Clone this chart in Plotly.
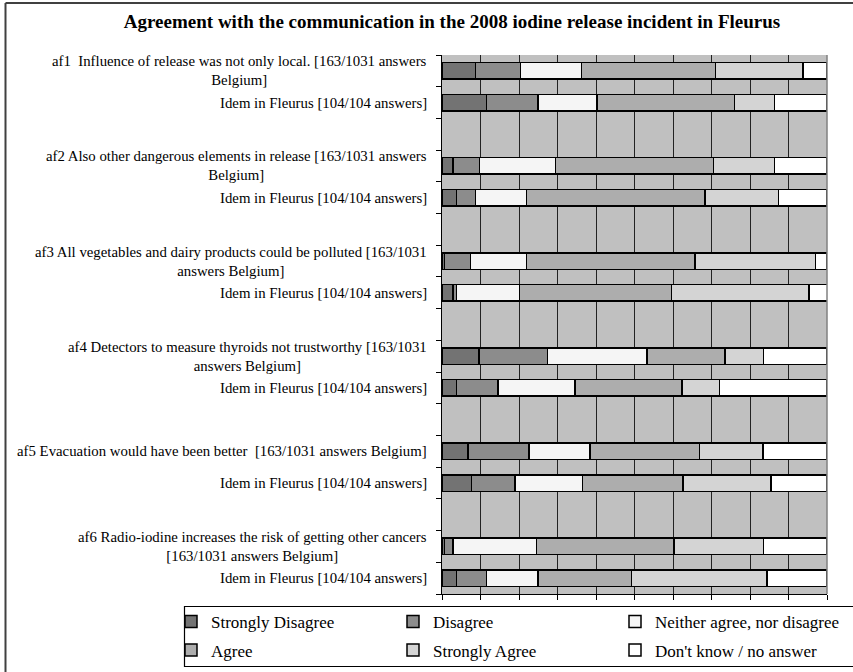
import plotly.graph_objects as go

# ---------------- data ----------------
row_labels = [
    "af1\u00a0 Influence of release was not only local. [163/1031 answers<br>Belgium]",
    "Idem in Fleurus [104/104 answers]",
    "af2 Also other dangerous elements in release [163/1031 answers<br>Belgium]",
    "Idem in Fleurus [104/104 answers]",
    "af3 All vegetables and dairy products could be polluted [163/1031<br>answers Belgium]",
    "Idem in Fleurus [104/104 answers]",
    "af4 Detectors to measure thyroids not trustworthy [163/1031<br>answers Belgium]",
    "Idem in Fleurus [104/104 answers]",
    "af5 Evacuation would have been better\u00a0 [163/1031 answers Belgium]",
    "Idem in Fleurus [104/104 answers]",
    "af6 Radio-iodine increases the risk of getting other cancers<br>[163/1031 answers Belgium]",
    "Idem in Fleurus [104/104 answers]",
]

strongly_disagree = [8.7, 11.5, 2.9, 3.7, 0.6, 2.9, 9.6, 3.8, 6.8, 7.7, 0.6, 3.8]
disagree          = [11.7, 13.4, 6.8, 5.0, 6.8, 0.9, 17.8, 10.7, 15.8, 11.3, 2.3, 7.8]
neither           = [15.8, 15.4, 19.8, 13.2, 14.5, 16.3, 25.9, 20.1, 15.8, 17.5, 21.6, 13.3]
agree             = [34.9, 35.7, 41.0, 46.4, 43.8, 39.5, 20.2, 27.8, 28.5, 26.1, 35.8, 24.3]
strongly_agree    = [22.7, 10.4, 15.9, 19.1, 31.3, 35.7, 10.0, 9.7, 16.5, 22.8, 23.2, 35.2]
dont_know         = [6.2, 13.6, 13.6, 12.6, 2.9, 4.8, 16.5, 27.9, 16.5, 14.6, 16.5, 15.5]

series_names = ["Strongly Disagree", "Disagree", "Neither agree, nor disagree",
                "Agree", "Strongly Agree", "Don't know / no answer"]
series_values = [strongly_disagree, disagree, neither, agree, strongly_agree, dont_know]
series_colors = ["#737373", "#8C8C8C", "#F5F5F5", "#ADADAD", "#D4D4D4", "#FFFFFF"]

# each question: Belgium row, Fleurus row, then an empty gap row
positions = []
for q in range(len(row_labels) // 2):
    positions += [q * 3, q * 3 + 1]
n_rows = positions[-1] + 1

# ---------------- geometry helpers ----------------
W, H = 853, 672
PL, PR, PT, PB = 442, 827, 55, 594
def px2x(px):
    return (px - PL) / (PR - PL)
def py2y(py):
    return (PB - py) / (PB - PT)

SERIF = "Liberation Serif, Times New Roman, serif"

# legend grid: 3 columns x 2 rows, one small legend per entry
legend_cols_px = [171, 393, 615]
legend_rows_px = [622, 650.5]

fig = go.Figure()
legend_layouts = {}
for i, (name, vals, col) in enumerate(zip(series_names, series_values, series_colors)):
    lg_key = "legend" if i == 0 else f"legend{i + 1}"
    fig.add_trace(go.Bar(
        y=positions, x=vals, orientation="h", name=name,
        marker=dict(color=col, line=dict(color="black", width=1.5)),
        legend=lg_key,
    ))
    legend_layouts[lg_key] = dict(
        x=px2x(legend_cols_px[i % 3]), y=py2y(legend_rows_px[i // 3]),
        orientation="h", xanchor="left", yanchor="middle",
        font=dict(family=SERIF, size=17, color="black"),
        bgcolor="rgba(0,0,0,0)", borderwidth=0,
        itemclick=False, itemdoubleclick=False,
    )

annotations = []
for lab, pos in zip(row_labels, positions):
    annotations.append(dict(
        text=lab, x=0, y=pos, xref="paper", yref="y",
        xanchor="right", yanchor="middle", xshift=-13, align="center",
        showarrow=False, font=dict(family=SERIF, size=14.8, color="black"),
    ))

shapes = [
    # right border of the plot area
    dict(type="line", xref="paper", yref="paper", x0=1, x1=1, y0=0, y1=1,
         line=dict(color="#808080", width=1.5)),
    # outer chart border (left + top)
    dict(type="line", xref="paper", yref="paper", x0=px2x(5.5), x1=px2x(5.5),
         y0=py2y(3), y1=py2y(680), line=dict(color="#404040", width=2)),
    dict(type="line", xref="paper", yref="paper", x0=px2x(5.5), x1=px2x(870),
         y0=py2y(3), y1=py2y(3), line=dict(color="#404040", width=2)),
    # legend box
    dict(type="rect", xref="paper", yref="paper", x0=px2x(184.5), x1=px2x(870),
         y0=py2y(606.5), y1=py2y(666.5), line=dict(color="black", width=1.2),
         fillcolor="rgba(0,0,0,0)"),
]

fig.update_layout(
    width=W, height=H,
    margin=dict(l=PL, r=W - PR, t=PT, b=H - PB, pad=0, autoexpand=False),
    paper_bgcolor="white", plot_bgcolor="#C0C0C0",
    barmode="stack", bargap=0.48,
    title=dict(
        text="<b>Agreement with the communication in the 2008 iodine release incident in Fleurus</b>",
        x=452 / W, xref="container", xanchor="center",
        y=1 - 21 / H, yref="container", yanchor="middle",
        font=dict(family=SERIF, size=19, color="black"),
    ),
    xaxis=dict(
        range=[0, 100], tick0=0, dtick=10, showgrid=True, gridcolor="#222222", gridwidth=1,
        showline=True, linecolor="black", linewidth=1, ticks="outside", ticklen=5,
        tickcolor="black", showticklabels=False, zeroline=False, fixedrange=True,
    ),
    yaxis=dict(
        range=[n_rows - 0.5, -0.5], tickmode="array",
        tickvals=[i - 0.5 for i in range(n_rows + 1)],
        showgrid=False, showline=True, linecolor="black", linewidth=1,
        ticks="outside", ticklen=5, tickcolor="black", showticklabels=False,
        zeroline=False, fixedrange=True,
    ),
    annotations=annotations,
    shapes=shapes,
    showlegend=True,
    **legend_layouts,
)

fig.write_html("out.html")
